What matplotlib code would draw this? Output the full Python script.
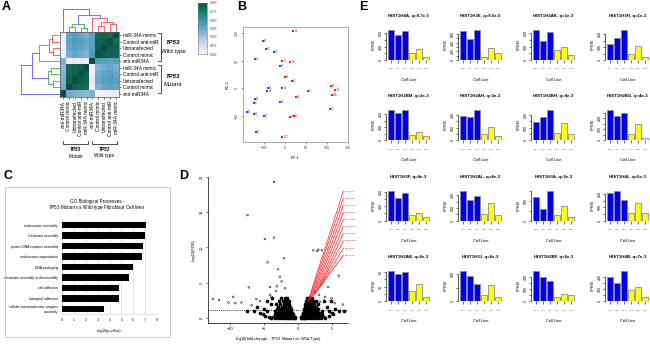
import numpy as np
import matplotlib
matplotlib.use('Agg')
import matplotlib.pyplot as plt
from matplotlib.colors import LinearSegmentedColormap
from matplotlib.patches import Rectangle
from matplotlib.lines import Line2D

plt.rcParams['font.family'] = ['Liberation Sans', 'DejaVu Sans']
plt.rcParams['mathtext.fontset'] = 'custom'
plt.rcParams['mathtext.it'] = 'Liberation Sans:italic'
plt.rcParams['mathtext.rm'] = 'Liberation Sans'
plt.rcParams['mathtext.bf'] = 'Liberation Sans:bold'

# ---------------- DATA ----------------
# Panel A: correlation heatmap (rows top->bottom, cols left->right)
row_labels = ['miR-34A mimic', 'Control anti-miR', 'Untransfected', 'Control mimic', 'anti-miR34A',
              'miR-34A mimic', 'Control anti-miR', 'Untransfected', 'Control mimic', 'anti-miR34A']
col_labels = ['anti-miR34A', 'Control mimic', 'Untransfected', 'Control anti-miR', 'miR-34A mimic',
              'anti-miR34A', 'Control mimic', 'Untransfected', 'Control anti-miR', 'miR-34A mimic']
corr_rows = [
    [0.905, 0.945, 0.950, 0.945, 0.940, 0.950, 0.982, 0.983, 0.980, 0.995],
    [0.903, 0.948, 0.952, 0.950, 0.945, 0.948, 0.983, 0.985, 0.995, 0.980],
    [0.904, 0.945, 0.950, 0.947, 0.942, 0.950, 0.985, 0.995, 0.985, 0.983],
    [0.902, 0.940, 0.945, 0.942, 0.938, 0.952, 0.995, 0.985, 0.983, 0.982],
    [0.940, 0.905, 0.908, 0.905, 0.903, 0.995, 0.952, 0.950, 0.948, 0.950],
    [0.935, 0.980, 0.983, 0.985, 0.995, 0.903, 0.938, 0.942, 0.945, 0.940],
    [0.938, 0.982, 0.985, 0.995, 0.985, 0.905, 0.942, 0.947, 0.950, 0.945],
    [0.940, 0.983, 0.995, 0.985, 0.983, 0.908, 0.945, 0.950, 0.952, 0.950],
    [0.942, 0.995, 0.983, 0.982, 0.980, 0.905, 0.940, 0.945, 0.948, 0.945],
    [0.995, 0.942, 0.940, 0.938, 0.935, 0.940, 0.902, 0.904, 0.903, 0.905],
]
# dendrograms: (height, left, right, cluster)
col_tree = (1.0, 0,
            (0.75,
             (0.31, (0.20, 1, 2, 'g'), (0.15, 3, 4, 'g'), 'g'),
             (0.57, 5, (0.42, (0.25, 6, 7, 'r'), (0.30, 8, 9, 'r'), 'r'), 'r'),
             'b'),
            'b')
row_tree = (1.0,
            (0.70,
             (0.52, (0.26, (0.18, 0, 1, 'r'), (0.15, 2, 3, 'r'), 'r'), 4, 'r'),
             (0.28, (0.20, 5, 6, 'g'), (0.16, 7, 8, 'g'), 'g'),
             'b'),
            9, 'b')
cbar_ticks = [0.900, 0.915, 0.930, 0.945, 0.960, 0.975, 0.990]

# Panel B: PCA
pca_blue_x = [-52, -44, -26, -71, -12, -40, -41, -5.5, -71, -74, -11, -90, -74, -49, -69]
pca_blue_y = [87, 71, 67, 53, 41, 1, -5, 1, -20, -26, -24, -43, -47, -51, -79]
pca_blue_lab = ['1B', '2B', '3B', '1D', '5B', '2A', '3A', '4B', '4A', '1C', '5A', '2C', '3C', '4C', '5C']
pca_red_x = [21, -5, 14, 0, 17, 56, 26, 110, 121, 113, 107, 12, 22, -6]
pca_red_y = [104, 49, 48, 20, 13, -5, -16, 4, -3, -12, -37, -52, -51, -88]
pca_red_lab = ['6B', '7D', '8B', '9A', '7B', '6C', '8A', '9B', '6A', '10A', '8D', '7C', '9C', '10C']

# Panel C: GO terms
go_terms = ['nucleosome assembly', 'chromatin assembly', 'protein-DNA complex assembly',
            'nucleosome organization', 'DNA packaging', 'chromatin assembly or disassembly',
            'cell adhesion', 'biological adhesion', 'cellular macromolecular complex\nassembly']
go_values = [7.1, 6.95, 6.8, 6.7, 5.95, 5.65, 4.8, 4.8, 3.5]

# Panel D: volcano
volc_out_x = [-3.5, -7.4, -4.85, -3.5, -2.06, -4.46, -2.9, -2.65, 3.5, 2.84, -7.2, -4.1, -3.1, -1.9,
              -12.5, -11.6, -9.5, -8.3, -9.2, -10.2, -6.1, -4.1, -3.2, 2.25, 3.0, 6.0, 4.46, 4.0,
              4.95, 3.1, 3.2, 5.4, 6.6, 2.5, 1.8, -5.6, -6.8, -2.4, -3.9]
volc_out_y = [19.3, 14.6, 11.2, 11.4, 8.5, 7.9, 6.9, 5.86, 9.6, 9.5, 4.35, 4.4, 4.5, 4.2,
              2.7, 2.55, 3.0, 2.2, 2.1, 2.2, 2.7, 3.3, 3.8, 9.6, 9.7, 6.0, 4.4, 3.0,
              2.8, 3.3, 2.3, 2.1, 1.9, 3.7, 3.0, 2.4, 1.8, 5.2, 3.0]
volc_cloud_rows = [
    (0.0, [-4.0, -3.4, -2.9, -2.5, -2.1, -1.75, -1.4, -1.1, -0.85, -0.6, -0.4,
           0.4, 0.6, 0.85, 1.1, 1.4, 1.75, 2.1, 2.5, 2.9, 3.4, 4.0]),
    (0.1, [-4.2, -3.6, -3.0, -2.6, -2.2, -1.9, -1.6, -1.3, -1.0, -0.8, -0.6, -0.45,
           0.45, 0.6, 0.8, 1.0, 1.3, 1.6, 1.9, 2.3, 2.7, 3.2, 3.8]),
    (0.2, [-2.8, -2.4, -2.0, -1.7, -1.4, -1.15, -0.9, -0.7, -0.55,
           0.55, 0.7, 0.95, 1.2, 1.5, 1.8, 2.1, 2.5, 3.0]),
    (0.35, [-4.8, -3.2, -2.7, -2.3, -1.95, -1.6, -1.3, -1.05, -0.8, -0.65,
            0.6, 0.8, 1.05, 1.3, 1.6, 1.95, 2.3, 2.8, 3.4, 4.5]),
    (0.5, [-5.2, -3.4, -2.9, -2.5, -2.1, -1.8, -1.5, -1.2, -0.95, -0.75,
           0.7, 0.9, 1.15, 1.4, 1.7, 2.0, 2.4, 2.9, 3.6, 5.2]),
    (0.75, [-5.5, -3.0, -2.6, -2.2, -1.9, -1.6, -1.35, -1.1, -0.85,
            0.75, 1.0, 1.25, 1.5, 1.8, 2.1, 2.6, 3.1, 5.0]),
    (1.0, [-7.5, -6.5, -4.5, -3.3, -2.8, -2.4, -2.05, -1.75, -1.45, -1.2, -0.95,
           0.85, 1.1, 1.35, 1.6, 1.9, 2.3, 2.8, 3.5, 4.5, 6.0, 6.8]),
    (1.3, [-5.0, -3.1, -2.6, -2.25, -1.9, -1.6, -1.35, -1.05,
           0.9, 1.2, 1.45, 1.75, 2.05, 2.5, 3.0, 5.5]),
    (1.6, [-6.0, -2.9, -2.4, -2.0, -1.7, -1.45, -1.15,
           1.0, 1.3, 1.55, 1.85, 2.2, 2.7, 4.2]),
    (2.0, [-4.0, -3.2, -2.6, -2.1, -1.8, -1.5, -1.25,
           1.1, 1.4, 1.7, 2.0, 2.4, 3.0]),
    (2.4, [-4.6, -2.8, -2.2, -1.9, -1.6, -1.35,
           1.2, 1.5, 1.8, 2.2, 2.6, 3.8, 4.8]),
    (2.9, [-3.8, -2.5, -1.9, -1.6, 1.3, 1.6, 2.0]),
]
fdr_line = 1.1
hl_genes = ['HIST1H4A', 'HIST1H3E', 'HIST1H2AK', 'HIST1H3H', 'HIST1H2BM',
            'HIST1H2AH', 'HIST1H2BH', 'HIST1H2BG', 'HIST1H3F', 'HIST1H2AL']
hl_x = [1.45, 1.6, 1.8, 2.0, 2.2, 2.45, 2.7, 2.9, 3.1, 3.3]
hl_y = [2.3, 2.5, 2.7, 2.9, 3.1, 3.3, 3.6, 3.9, 4.2, 4.5]
hl_label_y = [18.0, 17.0, 16.0, 15.0, 14.0, 12.95, 11.95, 10.95, 9.9, 8.9]

# Panel E: histone gene FPKM
e_titles = ['HIST1H4A, q=9.7e-5', 'HIST1H3E, q=9.5e-5', 'HIST1H2AK, q=1e-3', 'HIST1H3H, q=1e-3',
            'HIST1H2BM, q=2e-3', 'HIST1H2AH, q=3e-3', 'HIST1H2BH, q=4e-3', 'HIST1H2BG, q=4e-3',
            'HIST1H3F, q=4e-3', 'HIST1H2AL, q=4e-3', 'HIST1H3A, q=5e-3', 'HIST1H4L, q=5e-3',
            'HIST1H2AB, q=6e-3', 'HIST1H3J, q=6e-3', 'HIST1H2BF, q=6e-3', 'HIST1H4B, q=7e-3']
e_values = [
    [900, 750, 880, 220, 330, 100],
    [670, 485, 690, 77, 285, 155],
    [900, 580, 840, 300, 400, 150],
    [122, 174, 234, 47, 109, 26],
    [230, 210, 230, 44, 64, 33],
    [190, 180, 234, 47, 104, 34],
    [143, 182, 234, 60, 135, 47],
    [270, 216, 249, 60, 144, 24],
    [410, 305, 382, 77, 100, 55],
    [234, 166, 195, 52, 135, 44],
    [120, 57, 150, 28, 73, 20],
    [210, 225, 155, 60, 130, 62],
    [82, 73, 80, 27, 47, 11],
    [110, 93, 63, 24, 61, 17],
    [243, 195, 162, 32, 59, 49],
    [195, 146, 243, 92, 113, 38],
]
e_yticks = [
    [0, 200, 400, 600, 800], [0, 100, 200, 300, 400, 500, 600], [0, 200, 400, 600, 800], [0, 50, 100, 150, 200],
    [0, 50, 100, 150, 200], [0, 50, 100, 150, 200], [0, 50, 100, 150, 200], [0, 50, 100, 150, 200, 250],
    [0, 100, 200, 300, 400], [0, 50, 100, 150, 200], [0, 50, 100, 150], [0, 50, 100, 150, 200],
    [0, 20, 40, 60, 80], [0, 50, 100], [0, 50, 100, 150, 200], [0, 50, 100, 150, 200],
]
e_cell_lines = ['MT1', 'MT2', 'MT3', 'WT1', 'WT2', 'WT3']

# ---------------- FIGURE ----------------
W, H = 650, 346
fig = plt.figure(figsize=(6.5, 3.46), dpi=100)
fig.patch.set_facecolor('white')


def pax(x0, y0, x1, y1):
    return fig.add_axes([x0 / W, 1 - y1 / H, (x1 - x0) / W, (y1 - y0) / H])


def ftext(x, y, s, **kw):
    return fig.text(x / W, 1 - y / H, s, **kw)


def fline(xs, ys, **kw):
    fig.add_artist(Line2D([x / W for x in xs], [1 - y / H for y in ys],
                          transform=fig.transFigure, **kw))


for lab, (x, y) in zip('ABCDE', [(2, 1), (237, 1), (4, 170), (179, 170), (359, 1)]):
    ftext(x, y, lab, fontsize=9, fontweight='bold', va='top', ha='left')

# ---------- Panel A ----------
cmap = LinearSegmentedColormap.from_list(
    'hm', ['#f8f3f9', '#dcdcec', '#a9c3df', '#66a6cc', '#3593a8', '#167f6e', '#0a4e3e'])
axh = pax(60, 32, 119, 97)
axh.imshow(np.array(corr_rows), cmap=cmap, vmin=0.9, vmax=0.99, extent=[0, 10, 10, 0],
           aspect='auto', interpolation='nearest')
axh.set_xlim(0, 10)
axh.set_ylim(10, 0)
axh.yaxis.tick_right()
axh.set_yticks(np.arange(10) + 0.5)
axh.set_yticklabels(row_labels, fontsize=3.5)
axh.set_xticks(np.arange(10) + 0.5)
axh.set_xticklabels(col_labels, fontsize=3.5, rotation=90)
axh.tick_params(length=1.2, width=0.4, pad=1.5, direction='out')
for s in axh.spines.values():
    s.set_linewidth(0.5)
    s.set_color('#555555')

clus_col = {'b': '#5a5aff', 'r': '#ff4a4a', 'g': '#3cae3c'}


def draw_tree(ax, node, orient):
    if isinstance(node, int):
        return node + 0.5, 0.0
    h, left, right, c = node
    pl, hl = draw_tree(ax, left, orient)
    pr, hr = draw_tree(ax, right, orient)
    xs = [pl, pl, pr, pr]
    ys = [hl, h, h, hr]
    if orient == 'top':
        ax.plot(xs, ys, color=clus_col[c], lw=0.6, clip_on=False)
    else:
        ax.plot(ys, xs, color=clus_col[c], lw=0.6, clip_on=False)
    return (pl + pr) / 2, h


axdt = pax(60, 9, 119, 31)
draw_tree(axdt, col_tree, 'top')
axdt.set_xlim(0, 10)
axdt.set_ylim(0, 1)
axdt.axis('off')

axdl = pax(21, 32, 59, 97)
draw_tree(axdl, row_tree, 'left')
axdl.set_ylim(10, 0)
axdl.set_xlim(1, 0)
axdl.axis('off')

# right brackets
for y0, y1, t2, ty in [(33, 61, 'Wild type', 43), (65, 93, 'Mutant', 76)]:
    fline([158, 161, 161, 158], [y0, y0, y1, y1], color='#333333', lw=0.6)
    ftext(173, ty, 'TP53', fontsize=4.3, fontweight='bold', fontstyle='italic', ha='center', va='center')
    ftext(173, ty + 8, t2, fontsize=4.3, ha='center', va='center')
# bottom brackets
for x0, x1, t2 in [(63, 88, 'Mutant'), (92, 117, 'Wild type')]:
    fline([x0, x0, x1, x1], [141, 144, 144, 141], color='#333333', lw=0.6)
    ftext((x0 + x1) / 2, 150, 'TP53', fontsize=3.4, fontweight='bold', fontstyle='italic',
          ha='center', va='center')
    ftext((x0 + x1) / 2, 156, t2, fontsize=3.4, ha='center', va='center')

# colorbar
axcb = pax(198, 3, 207, 54)
grad = np.linspace(0.9, 0.99, 256).reshape(-1, 1)
axcb.imshow(grad, cmap=cmap, vmin=0.9, vmax=0.99, origin='lower', aspect='auto',
            extent=[0, 1, 0.9, 0.99])
axcb.set_xticks([])
axcb.yaxis.tick_right()
axcb.set_yticks(cbar_ticks)
axcb.set_yticklabels(['%.3f' % v for v in cbar_ticks], fontsize=2.2, color='#444444')
axcb.tick_params(length=1, width=0.3, pad=1)
for s in axcb.spines.values():
    s.set_linewidth(0.4)
    s.set_color('#777777')

# ---------- Panel B ----------
axb = pax(243, 27, 348, 142)
axb.scatter(pca_blue_x, pca_blue_y, s=2.2, marker='s', color='#2a48d8', lw=0)
axb.scatter(pca_red_x, pca_red_y, s=2.2, marker='s', color='#e81c1c', lw=0)
for x, y, t in zip(pca_blue_x, pca_blue_y, pca_blue_lab):
    axb.text(x + 3, y, t, fontsize=1.8, color='#2a48d8', va='center')
for x, y, t in zip(pca_red_x, pca_red_y, pca_red_lab):
    axb.text(x + 3, y, t, fontsize=1.8, color='#e81c1c', va='center')
axb.set_xlim(-99, 151)
axb.set_ylim(-97.6, 111.6)
axb.set_xticks([-50, 0, 50, 100, 150])
axb.set_yticks([-50, 0, 50, 100])
axb.tick_params(labelsize=2.6, length=1.5, width=0.4, pad=1.5, colors='#444444')
for t in axb.get_yticklabels():
    t.set_rotation(90)
    t.set_va('center')
for s in axb.spines.values():
    s.set_linewidth(0.5)
    s.set_color('#888888')
axb.set_xlabel('PC-1', fontsize=2.8, labelpad=4)
axb.set_ylabel('PC-2', fontsize=2.8, labelpad=4)

# ---------- Panel C ----------
fig.add_artist(Rectangle((5 / W, 1 - 337 / H), 165 / W, 150 / H, transform=fig.transFigure,
                         fill=False, ec='#c0c0c0', lw=0.6))
ftext(97, 202, 'GO Biological Processes -', fontsize=3.3, ha='center', va='center')
ftext(97, 208, r'$\it{TP53}$ Mutant vs. Wild-type Fibroblast Cell lines', fontsize=3.3,
      ha='center', va='center')
axc = pax(62, 220, 157, 314)
axc.barh(np.arange(len(go_values)), go_values, height=0.65, color='black', zorder=3)
axc.set_xlim(0, 8)
axc.set_ylim(8.48, -0.48)
axc.set_xticks(range(9))
axc.grid(axis='x', color='#cfcfcf', lw=0.4, zorder=0)
axc.set_yticks(np.arange(len(go_terms)))
axc.set_yticklabels(go_terms, fontsize=2.4)
axc.tick_params(axis='y', length=0, pad=3)
axc.tick_params(axis='x', length=0, labelsize=2.4, pad=3)
for k, s in axc.spines.items():
    s.set_visible(k == 'bottom')
axc.spines['bottom'].set_color('#cfcfcf')
axc.spines['bottom'].set_linewidth(0.4)
axc.set_xlabel('-log10(p-value)', fontsize=2.6, labelpad=5)

# ---------- Panel D ----------
axd = pax(208, 177, 348, 323)
cx, cy = [], []
for y, xs in volc_cloud_rows:
    for x in xs:
        cx.append(x)
        cy.append(y)
axd.scatter(cx, cy, s=7, color='black', lw=0)
axd.scatter(volc_out_x, volc_out_y, s=1.6, facecolor='none', edgecolor='black', lw=0.35)
axd.axhline(fdr_line, color='black', lw=0.5, ls=(0, (1.5, 1.5)))
for g, x, y, ly in zip(hl_genes, hl_x, hl_y, hl_label_y):
    axd.plot([x, 6.67], [y, ly], color='#ff1a1a', lw=0.5)
    axd.text(6.85, ly, g, fontsize=1.6, color='#ff1a1a', va='center', ha='left', clip_on=False)
axd.set_xlim(-13.2, 7.35)
axd.set_ylim(-0.71, 20)
axd.set_xticks([-10, -5, 0, 5])
axd.set_yticks([0, 5, 10, 15, 20])
axd.tick_params(labelsize=2.8, length=1.5, width=0.4, pad=1.5)
for t in axd.get_yticklabels():
    t.set_rotation(90)
    t.set_va('center')
axd.spines['top'].set_visible(False)
axd.spines['right'].set_visible(False)
for k in ['left', 'bottom']:
    axd.spines[k].set_linewidth(0.5)
axd.set_xlabel(r'log10(fold change - $\it{TP53}$ Mutant vs. Wild-Type)', fontsize=2.9, labelpad=3)
axd.set_ylabel('-log10(FDR)', fontsize=2.9, labelpad=3)

# ---------- Panel E ----------
col_left = [386.4, 458.4, 531.4, 605.4]
bar_pos = 0.7 + 1.2 * np.arange(6)
bar_cols = ['#0000ee'] * 3 + ['#ffff00'] * 3
for i in range(16):
    r, c = divmod(i, 4)
    yb = 60 + 80.4 * r
    x0 = col_left[c]
    ax = pax(x0, yb - 31.2, x0 + 44.3, yb)
    vals = e_values[i]
    ax.bar(bar_pos, vals, width=1.0, color=bar_cols, edgecolor='#8a8a9a', lw=0.6)
    ax.set_xlim(0.2 - 0.28, 7.2 + 0.28)
    ax.set_ylim(0, max(vals) * 1.04)
    ticks = e_yticks[i]
    ax.set_yticks(ticks)
    ax.set_yticklabels([str(t) if k % 2 == 0 else '' for k, t in enumerate(ticks)], fontsize=2.5)
    for t in ax.get_yticklabels():
        t.set_rotation(90)
        t.set_va('center')
    ax.spines['left'].set_bounds(0, ticks[-1])
    ax.spines['left'].set_linewidth(0.45)
    for k in ['top', 'right', 'bottom']:
        ax.spines[k].set_visible(False)
    ax.set_xticks(bar_pos)
    ax.set_xticklabels(e_cell_lines, fontsize=1.7, color='#555555')
    ax.tick_params(axis='x', length=1.8, width=0.4, pad=4.3)
    ax.tick_params(axis='y', length=1.3, width=0.4, pad=1.2)
    ax.set_ylabel('FPKM', fontsize=2.8, labelpad=2.5)
    ftext(x0 + 22, yb - 44, e_titles[i], fontsize=3.2, fontweight='bold', ha='center', va='center')
    ftext(x0 + 22, yb + 20, 'Cell Line', fontsize=2.9, ha='center', va='center')

fig.savefig('out.png', dpi=100, facecolor='white')
